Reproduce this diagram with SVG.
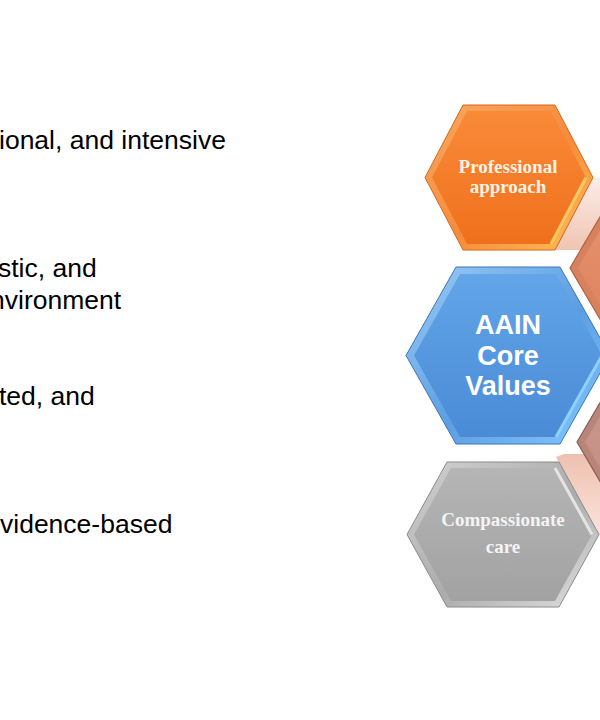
<svg xmlns="http://www.w3.org/2000/svg" width="600" height="720" viewBox="0 0 600 720">
  <defs>
    <linearGradient id="gOrange" x1="0" y1="0" x2="0" y2="1">
      <stop offset="0" stop-color="#F98A38"/>
      <stop offset="1" stop-color="#F0701C"/>
    </linearGradient>
    <linearGradient id="gOrangeBevel" x1="0" y1="0" x2="1" y2="1">
      <stop offset="0" stop-color="#FAA860"/>
      <stop offset="0.55" stop-color="#F58B3C"/>
      <stop offset="1" stop-color="#FFC25A"/>
    </linearGradient>
    <linearGradient id="gBlue" x1="0" y1="0" x2="0" y2="1">
      <stop offset="0" stop-color="#62A5E8"/>
      <stop offset="1" stop-color="#4A8BD6"/>
    </linearGradient>
    <linearGradient id="gBlueBevel" x1="0" y1="0" x2="1" y2="1">
      <stop offset="0" stop-color="#9ACBF5"/>
      <stop offset="0.55" stop-color="#5C9EE2"/>
      <stop offset="1" stop-color="#86CBFF"/>
    </linearGradient>
    <linearGradient id="gGray" x1="0" y1="0" x2="0" y2="1">
      <stop offset="0" stop-color="#B5B5B5"/>
      <stop offset="1" stop-color="#A2A2A2"/>
    </linearGradient>
    <linearGradient id="gGrayBevel" x1="0" y1="0" x2="1" y2="1">
      <stop offset="0" stop-color="#D2D2D2"/>
      <stop offset="0.55" stop-color="#ABABAB"/>
      <stop offset="1" stop-color="#E2E2E2"/>
    </linearGradient>
    <linearGradient id="gSalmon" x1="0" y1="0" x2="0" y2="1">
      <stop offset="0" stop-color="#E8946F"/>
      <stop offset="1" stop-color="#DC805C"/>
    </linearGradient>
    <linearGradient id="gMauve" x1="0" y1="0" x2="0" y2="1">
      <stop offset="0" stop-color="#CD9B90"/>
      <stop offset="1" stop-color="#C18B80"/>
    </linearGradient>
    <linearGradient id="gPinkTop" x1="0" y1="0" x2="0" y2="1">
      <stop offset="0" stop-color="#FCEDE7"/>
      <stop offset="1" stop-color="#F0C4B2"/>
    </linearGradient>
    <linearGradient id="gPinkBottom" x1="0" y1="0" x2="0" y2="1">
      <stop offset="0" stop-color="#EEC0B0"/>
      <stop offset="1" stop-color="#FAE4DB"/>
    </linearGradient>
  </defs>
  <style>
    .body { font-family: "Liberation Sans", Arial, sans-serif; font-size: 26.5px; fill: #000000; }
    .serifLbl { font-family: "Liberation Serif", "Times New Roman", serif; font-weight: bold; font-size: 19px; text-anchor: middle; }
    .sansLbl { font-family: "Liberation Sans", Arial, sans-serif; font-weight: bold; font-size: 27px; fill: #FFFFFF; text-anchor: middle; }
  </style>
  <rect x="0" y="0" width="600" height="720" fill="#FFFFFF"/>

  <g id="body-text">
    <text class="body" x="-1" y="149">ional, and intensive</text>
    <text class="body" x="-2" y="277">stic, and</text>
    <text class="body" x="-10" y="308.5">nvironment</text>
    <text class="body" x="-1" y="405">ted, and</text>
    <text class="body" x="0" y="533">vidence-based</text>
  </g>

  <g id="connectors">
    <polygon points="553,178 640,178 640,250 553,250" fill="url(#gPinkTop)"/>
    <polygon points="564,454 640,454 640,535 599,535 556,457" fill="url(#gPinkBottom)"/>
  </g>

  <g id="node-upper-right">
    <polygon points="570,268 614,193 700,193 744,268 700,343 614,343" fill="#D8815F" stroke="#B0603F" stroke-width="1.2"/>
    <polygon points="578,268 618,200 696,200 736,268 696,336 618,336" fill="url(#gSalmon)"/>
  </g>

  <g id="node-lower-right">
    <polygon points="577,442 621,367 700,367 744,442 700,517 621,517" fill="#B9857A" stroke="#8E5D53" stroke-width="1.2"/>
    <polygon points="585,442 625,374 696,374 736,442 696,510 625,510" fill="url(#gMauve)"/>
  </g>

  <g id="node-professional">
    <polygon points="425,177.5 463,105 555,105 593,177.5 555,250 463,250" fill="url(#gOrangeBevel)" stroke="#D8651A" stroke-width="1"/>
    <polygon points="432,177.5 467,111 551,111 586,177.5 551,244 467,244" fill="url(#gOrange)"/>
    <polyline points="586,177.5 551,244" fill="none" stroke="#FFC864" stroke-width="3"/>
    <text class="serifLbl" x="508" y="173" fill="#FFF3E4">Professional</text>
    <text class="serifLbl" x="508" y="193" fill="#FFF3E4">approach</text>
  </g>

  <g id="node-core">
    <polygon points="406,355.5 456,267 560,267 610,355.5 560,444 456,444" fill="url(#gBlueBevel)" stroke="#3C75B8" stroke-width="1"/>
    <polygon points="414,355.5 460,274 556,274 602,355.5 556,437 460,437" fill="url(#gBlue)"/>
    <polyline points="602,355.5 556,437" fill="none" stroke="#8ED0FF" stroke-width="3"/>
    <text class="sansLbl" x="508" y="334">AAIN</text>
    <text class="sansLbl" x="508" y="365">Core</text>
    <text class="sansLbl" x="508" y="395">Values</text>
  </g>

  <g id="node-compassionate">
    <polygon points="407,534.5 447,462 559,462 599,534.5 559,607 447,607" fill="url(#gGrayBevel)" stroke="#8A8A8A" stroke-width="1"/>
    <polygon points="414,534.5 451,468 555,468 592,534.5 555,601 451,601" fill="url(#gGray)"/>
    <polyline points="555,468 592,534.5" fill="none" stroke="#E4E4E4" stroke-width="3"/>
    <text class="serifLbl" x="503" y="526" fill="#F4F4F4">Compassionate</text>
    <text class="serifLbl" x="503" y="553" fill="#F4F4F4">care</text>
  </g>
</svg>
